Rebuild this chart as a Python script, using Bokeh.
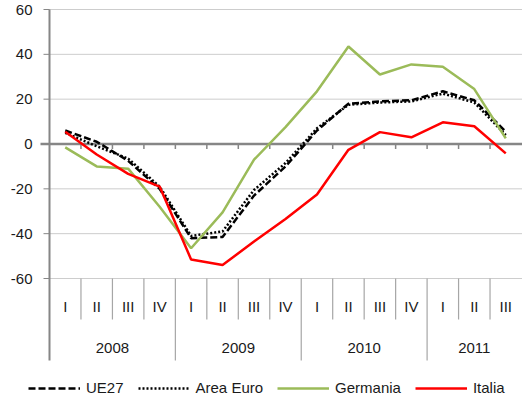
import numpy as np
from bokeh.plotting import figure
from bokeh.models import Range1d, Legend, LegendItem
from bokeh.embed import file_html
from bokeh.resources import INLINE
from bokeh.core.properties import value

years = ["2008", "2009", "2010", "2011"]
quarters = ["I", "II", "III", "IV", "I", "II", "III", "IV",
            "I", "II", "III", "IV", "I", "II", "III"]
quarter_year = ["2008"] * 4 + ["2009"] * 4 + ["2010"] * 4 + ["2011"] * 3

ue27 = [6, 1, -7.5, -20, -42, -41.5, -23, -10, 6, 18, 19, 19.5, 23.5, 19.5, 5.5]
area_euro = [5, -1, -6.5, -19, -41, -39, -20.5, -8.5, 7, 17.5, 18.5, 19, 22.5, 18.5, 4]
germania = [-1.5, -10, -11, -28, -46.5, -30.5, -7, 7.5, 23.5, 43.5, 31, 35.5, 34.5, 24.5, 2.5]
italia = [5.5, -4.7, -13.3, -19, -51.5, -54, -43.5, -33.5, -22.5, -2.6, 5.3, 3, 9.7, 7.9, -4.2]

y_ticks = [-60, -40, -20, 0, 20, 40, 60]

FONT = "Liberation Sans"
TXT = "#1a1a1a"
GRAY = "#868686"
SEP = "#a6a6a6"

n = len(quarters)
xs = np.arange(n) + 0.5

# layout (pixel) parameters
W, H = 522, 403
LEFT_PX = 49            # where the category area starts
PX = (W - 1 - LEFT_PX) / n
PY = 269 / 120.0        # px per y unit
X_START = -LEFT_PX / PX
X_END = n + 1 / PX
Y_TOP = 60 + 9 / PY
Y_BOTTOM = -60 - (H - 278) / PY
Y_QLAB = -60 - 28 / PY
Y_YLAB = -60 - 69 / PY
Y_QSEP = -60 - 41 / PY
Y_YSEP = -60 - 82 / PY

p = figure(width=W, height=H, output_backend="svg", toolbar_location=None,
           x_range=Range1d(X_START, X_END), y_range=Range1d(Y_BOTTOM, Y_TOP),
           min_border_left=0, min_border_right=0, min_border_top=0,
           min_border_bottom=0, x_axis_location=None, y_axis_location=None)
p.outline_line_color = None
p.background_fill_color = "white"
p.border_fill_color = "white"
p.grid.visible = False

grid_ticks = [t for t in y_ticks if t != 0]
# horizontal dotted gridlines
p.segment(x0=[0] * len(grid_ticks), y0=grid_ticks, x1=[X_END] * len(grid_ticks), y1=grid_ticks,
          line_color="#9a9a9a", line_width=1, line_dash="1 1")

# category separators
year_bounds = [i for i in range(1, n) if quarter_year[i] != quarter_year[i - 1]]
q_bounds = [i for i in range(1, n) if i not in year_bounds]
p.segment(x0=q_bounds, y0=-60, x1=q_bounds, y1=Y_QSEP, line_color=SEP, line_width=1.2)
p.segment(x0=year_bounds, y0=-60, x1=year_bounds, y1=Y_YSEP, line_color=SEP, line_width=1.2)

# y axis: ticks, line, labels
p.segment(x0=[-6 / PX] * len(grid_ticks), y0=grid_ticks, x1=[0] * len(grid_ticks), y1=grid_ticks,
          line_color=GRAY, line_width=1)
p.segment(x0=[0], y0=[Y_YSEP], x1=[0], y1=[60], line_color=GRAY, line_width=2)
p.text(x=[-17 / PX] * len(y_ticks), y=y_ticks, text=[str(t) for t in y_ticks],
       text_align="right", text_baseline="middle", text_font=value(FONT),
       text_font_size="15px", text_color=TXT)

# zero line with category ticks
p.segment(x0=[-9 / PX], y0=[0], x1=[X_END], y1=[0], line_color=GRAY, line_width=2.5)
bounds_all = list(range(1, n))
p.segment(x0=bounds_all, y0=[0] * len(bounds_all), x1=bounds_all, y1=[-5 / PY] * len(bounds_all),
          line_color=GRAY, line_width=1.5)

# category labels
p.text(x=xs, y=[Y_QLAB] * n, text=quarters, text_align="center", text_baseline="middle",
       text_font=value(FONT), text_font_size="15px", text_color=TXT)
year_x = [float(np.mean([xs[i] for i in range(n) if quarter_year[i] == y])) for y in years]
p.text(x=year_x, y=[Y_YLAB] * len(years), text=years, text_align="center",
       text_baseline="middle", text_font=value(FONT), text_font_size="15px", text_color=TXT)

# series
r_ue = p.line(xs, ue27, line_color="black", line_width=2.5, line_dash="7 3")
r_ae = p.line(xs, area_euro, line_color="black", line_width=2.5, line_dash="2 2")
r_de = p.line(xs, germania, line_color="#9BBB59", line_width=2.5)
r_it = p.line(xs, italia, line_color="#FF0000", line_width=2.5)

legend = Legend(items=[LegendItem(label="UE27", renderers=[r_ue]),
                       LegendItem(label="Area Euro", renderers=[r_ae]),
                       LegendItem(label="Germania", renderers=[r_de]),
                       LegendItem(label="Italia", renderers=[r_it])],
                orientation="horizontal", location=(28, 7),
                glyph_width=52, glyph_height=16, label_height=16,
                label_standoff=6, spacing=14, padding=0, margin=0,
                label_text_font=FONT, label_text_font_size="15px",
                label_text_color=TXT, border_line_color=None,
                background_fill_alpha=0)
p.add_layout(legend)

open("out.html", "w").write(file_html(p, INLINE))
